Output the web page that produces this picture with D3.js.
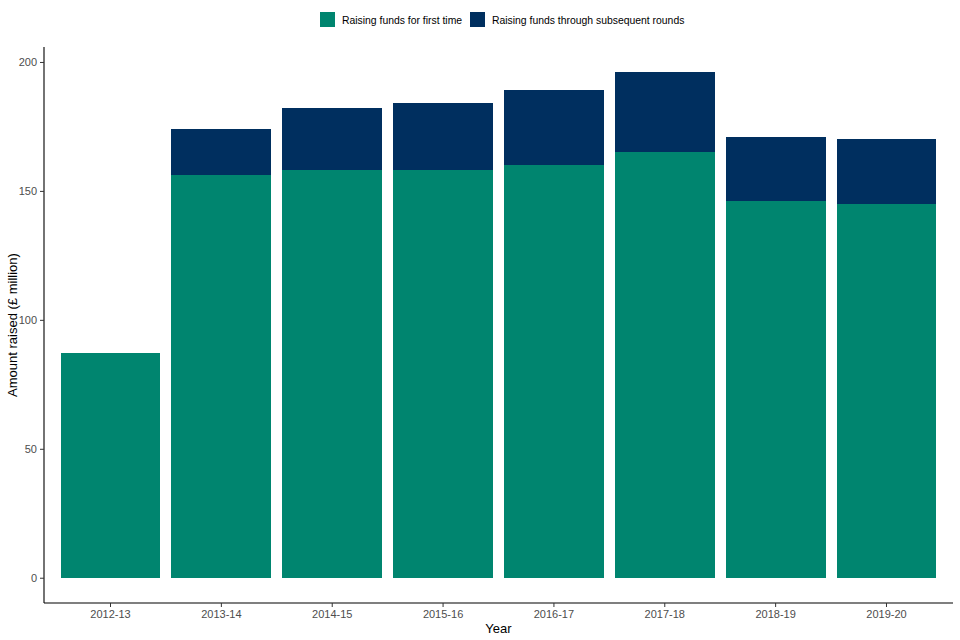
<!DOCTYPE html>
<html>
<head>
<meta charset="utf-8">
<script src="https://cdn.jsdelivr.net/npm/d3@7"></script>
<style>
    body { margin: 0; background: white; }
    svg { font-family: "Liberation Sans", Arial, sans-serif; }
</style>
</head>
<body>
<div id="chart"></div>
<script>
// Data
const years = ['2012-13', '2013-14', '2014-15', '2015-16', '2016-17', '2017-18', '2018-19', '2019-20'];
const firstTime = [87, 156, 158, 158, 160, 165, 146, 145];
const subsequent = [0, 18, 24, 26, 29, 31, 25, 25];
const seriesNames = ['Raising funds for first time', 'Raising funds through subsequent rounds'];
const seriesColors = ['#00856f', '#002f5f'];
const yTicks = [0, 50, 100, 150, 200];

const width = 960, height = 640;
const panel = { left: 44, right: 953, top: 47, bottom: 603 };

const rows = years.map((y, i) => ({ year: y, first: firstTime[i], subsequent: subsequent[i] }));
const maxTotal = d3.max(rows, d => d.first + d.subsequent);

const svg = d3.select('#chart')
    .append('svg')
        .attr('width', width)
        .attr('height', height);

const x = d3.scaleBand()
    .domain(years)
    .range([panel.left, panel.right])
    .paddingInner(0.1)
    .paddingOuter(0.15);

const y = d3.scaleLinear()
    .domain([-maxTotal * 0.05, maxTotal * 1.05])
    .range([panel.bottom, panel.top]);

const stack = d3.stack().keys(['first', 'subsequent']);
const layers = stack(rows);

svg.selectAll('g.layer')
    .data(layers)
    .enter()
    .append('g')
        .attr('class', 'layer')
        .attr('fill', (d, i) => seriesColors[i])
        .attr('shape-rendering', 'crispEdges')
    .selectAll('rect')
    .data(d => d.filter(p => p[1] > p[0]))
    .enter()
    .append('rect')
        .attr('x', d => x(d.data.year))
        .attr('width', x.bandwidth())
        .attr('y', d => y(d[1]))
        .attr('height', d => y(d[0]) - y(d[1]));

// Axes
const xAxis = svg.append('g')
    .attr('transform', `translate(0,${panel.bottom})`)
    .call(d3.axisBottom(x).tickSize(4).tickPadding(3).tickSizeOuter(0));

const yAxis = svg.append('g')
    .attr('transform', `translate(${panel.left},0)`)
    .call(d3.axisLeft(y).tickValues(yTicks).tickSize(4).tickPadding(3).tickSizeOuter(0));

[xAxis, yAxis].forEach(ax => {
    ax.select('.domain').attr('stroke', '#000').attr('stroke-width', 1.1);
    ax.selectAll('.tick line').attr('stroke', '#333');
    ax.selectAll('.tick text')
        .attr('fill', '#4d4d4d')
        .style('font-size', '11px')
        .style('font-family', '"Liberation Sans", Arial, sans-serif');
});
// make domain span full panel
xAxis.select('.domain').attr('d', `M${panel.left},0H${panel.right}`);
yAxis.select('.domain').attr('d', `M0,${panel.top}V${panel.bottom}`);

// Axis titles
svg.append('text')
    .attr('x', (panel.left + panel.right) / 2)
    .attr('y', 633)
    .attr('text-anchor', 'middle')
    .style('font-size', '13px')
    .text('Year');

svg.append('text')
    .attr('transform', `translate(17,${(panel.top + panel.bottom) / 2}) rotate(-90)`)
    .attr('text-anchor', 'middle')
    .style('font-size', '13px')
    .text('Amount raised (£ million)');

// Legend
const legend = svg.append('g').attr('transform', 'translate(320,12)');
const legendX = [0, 150];
legend.selectAll('rect')
    .data(seriesNames)
    .enter()
    .append('rect')
        .attr('x', (d, i) => legendX[i])
        .attr('y', 0)
        .attr('width', 15)
        .attr('height', 15)
        .attr('fill', (d, i) => seriesColors[i]);
legend.selectAll('text')
    .data(seriesNames)
    .enter()
    .append('text')
        .attr('x', (d, i) => legendX[i] + 22)
        .attr('y', 8)
        .attr('dy', '0.35em')
        .style('font-size', '10.4px')
        .text(d => d);
</script>
</body>
</html>
